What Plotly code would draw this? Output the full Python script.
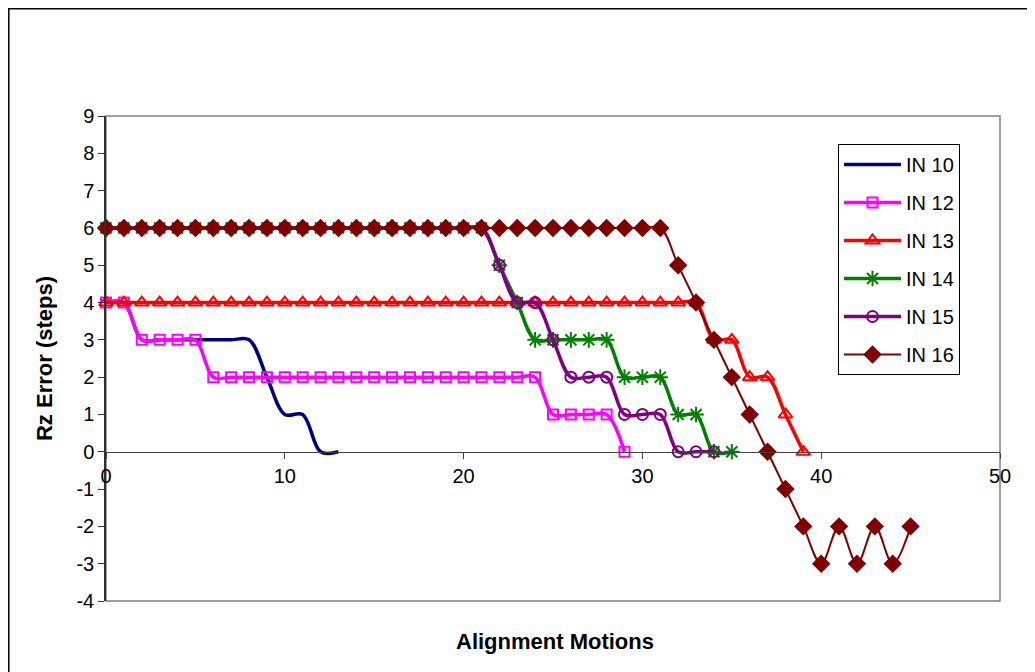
import plotly.graph_objects as go

# ---- data ----
x_in10 = list(range(0, 14))
y_in10 = [4, 4, 3, 3, 3, 3, 3, 3, 3, 2, 1, 1, 0, 0]

x_in12 = list(range(0, 30))
y_in12 = [4, 4, 3, 3, 3, 3] + [2] * 19 + [1, 1, 1, 1] + [0]

x_in13 = list(range(0, 40))
y_in13 = [4] * 34 + [3, 3, 2, 2, 1, 0]

x_in14 = list(range(0, 36))
y_in14 = [6] * 22 + [5, 4, 3, 3, 3, 3, 3, 2, 2, 2, 1, 1, 0, 0]

x_in15 = list(range(0, 35))
y_in15 = [6] * 22 + [5, 4, 4, 3, 2, 2, 2, 1, 1, 1, 0, 0, 0]

x_in16 = list(range(0, 46))
y_in16 = [6] * 32 + [5, 4, 3, 2, 1, 0, -1, -2, -3, -2, -3, -2, -3, -2]

series_names = ["IN 10", "IN 12", "IN 13", "IN 14", "IN 15", "IN 16"]
x_ticks = [0, 10, 20, 30, 40, 50]
y_ticks = [-4, -3, -2, -1, 0, 1, 2, 3, 4, 5, 6, 7, 8, 9]

x_title = "Alignment Motions"
y_title = "Rz Error (steps)"

# ---- styles ----
styles = [
    dict(color="#000080", width=3.5, symbol=None, size=0),
    dict(color="#FF00FF", width=3.5, symbol="square-open", size=10),
    dict(color="#FF0000", width=3.5, symbol="triangle-up-open", size=12),
    dict(color="#008000", width=3.5, symbol="asterisk-open", size=13),
    dict(color="#800080", width=3.5, symbol="circle-open", size=11),
    dict(color="#800000", width=2, symbol="diamond", size=12),
]
xs = [x_in10, x_in12, x_in13, x_in14, x_in15, x_in16]
ys = [y_in10, y_in12, y_in13, y_in14, y_in15, y_in16]

FONT = "Liberation Sans, Arial, sans-serif"

fig = go.Figure()
for name, x, y, st in zip(series_names, xs, ys, styles):
    kw = dict(
        x=x, y=y, name=name, legendgroup=name,
        line=dict(color=st["color"], width=st["width"], shape="spline", smoothing=1.0),
        cliponaxis=False,
    )
    if st["symbol"] is None:
        kw["mode"] = "lines"
    else:
        kw["mode"] = "lines+markers"
        kw["marker"] = dict(
            symbol=st["symbol"], size=st["size"], color=st["color"],
            line=dict(color=st["color"], width=2),
        )
    fig.add_trace(go.Scatter(**kw))

# the page body adds an 8px offset; figure placed so that plot area lands at
# x 106..1000, y 116..593 in the window
OFF = 8
W, H = 1035 - OFF, 672 - OFF
L, R, T, B = 106 - OFF, 35, 116 - OFF, 79 - OFF
pw, ph = W - L - R, H - T - B

fig.update_layout(
    width=W, height=H,
    margin=dict(l=L, r=R, t=T, b=B, pad=0),
    paper_bgcolor="white", plot_bgcolor="white",
    font=dict(family=FONT, size=20, color="black"),
    showlegend=True,
    legend=dict(
        x=(838 - 106) / pw, y=(593 - 136) / ph, xanchor="left", yanchor="top",
        bgcolor="white", bordercolor="black", borderwidth=1,
        font=dict(family=FONT, size=20, color="black"),
        traceorder="grouped", tracegroupgap=9, itemwidth=57,
    ),
    xaxis=dict(
        range=[0, 50], tickvals=x_ticks, ticktext=[str(v) for v in x_ticks],
        showgrid=False, zeroline=False,
        showline=True, linecolor="#404040", linewidth=1,
        ticks="outside", ticklen=6, tickcolor="#404040",
        anchor="free", position=4 / 13,
        tickfont=dict(family=FONT, size=20),
        title=None,
    ),
    yaxis=dict(
        range=[-4, 9], tickvals=y_ticks, ticktext=[str(v) for v in y_ticks],
        showgrid=False, zeroline=False,
        showline=True, linecolor="#303030", linewidth=1.5,
        ticks="outside", ticklen=6, tickcolor="#303030",
        tickfont=dict(family=FONT, size=20),
        title=dict(text="<b>" + y_title + "</b>", font=dict(family=FONT, size=22), standoff=18),
    ),
    shapes=[
        # plot area frame (grey)
        dict(type="rect", xref="paper", yref="paper", x0=0, x1=1, y0=0, y1=1,
             line=dict(color="#808080", width=1.5), layer="below"),
        # outer chart frame
        dict(type="rect", xref="paper", yref="paper",
             x0=(0.8 - L) / pw, x1=(W + 20 - L) / pw,
             y0=(H - B - (H + 20)) / ph, y1=(H - B - 0.8) / ph,
             line=dict(color="black", width=1.5), layer="below"),
    ],
    annotations=[
        dict(text="<b>" + x_title + "</b>", xref="paper", yref="paper",
             x=(555 - 106) / pw, y=(593 - 633) / ph, xanchor="center", yanchor="middle",
             showarrow=False, font=dict(family=FONT, size=22, color="black")),
    ],
)

fig.write_html("out.html")
